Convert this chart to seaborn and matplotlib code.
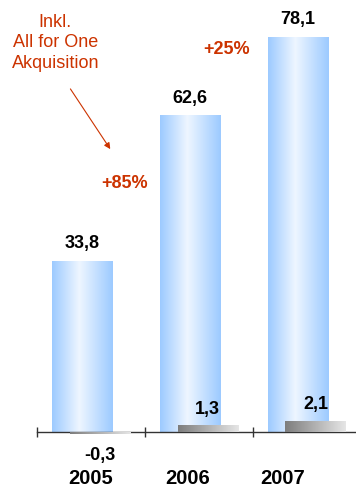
import numpy as np
import matplotlib
matplotlib.use('Agg')
import matplotlib.pyplot as plt
import seaborn as sns
from matplotlib.colors import LinearSegmentedColormap

years = ['2005', '2006', '2007']
umsatz = [33.8, 62.6, 78.1]
ebit = [-0.3, 1.3, 2.1]
umsatz_labels = ['33,8', '62,6', '78,1']
ebit_labels = ['-0,3', '1,3', '2,1']
growth_labels = ['+85%', '+25%']
note = 'Inkl.\nAll for One\nAkquisition'

RED = '#cc3300'

sns.set_theme(style='white')
plt.rcParams['font.family'] = ['Liberation Sans', 'DejaVu Sans']

fig = plt.figure(figsize=(3.56, 4.89), dpi=100)
ax = fig.add_axes([37 / 356, 0, 1 - 37 / 356, 1])

sns.barplot(x=years, y=umsatz, width=0.56, ax=ax, color='#a0ccff')
n1 = len(ax.patches)
sns.barplot(x=years, y=ebit, width=0.56, ax=ax, color='#aaaaaa')
blue_patches = ax.patches[:n1]
gray_patches = ax.patches[n1:]

blue_cmap = LinearSegmentedColormap.from_list(
    'b', [(0, '#9ccaff'), (0.45, '#eef6ff'), (1, '#9ccaff')])
gray_cmap = LinearSegmentedColormap.from_list(
    'g', [(0, '#7d7d7d'), (1, '#e6e6e6')])
grad = np.linspace(0, 1, 256).reshape(1, -1)

def shade(patches, shift, cmap, z):
    for p in patches:
        p.set_x(p.get_x() + shift)
        x0 = p.get_x(); x1 = x0 + p.get_width()
        y0 = min(0, p.get_height()); y1 = max(0, p.get_height())
        im = ax.imshow(grad, extent=[x0, x1, y0, y1], aspect='auto',
                       cmap=cmap, zorder=z, interpolation='bilinear')
        im.set_clip_path(p)
        p.set_facecolor('none')
        p.set_edgecolor('none')

shade(blue_patches, -0.08, blue_cmap, 2)
shade(gray_patches, 0.085, gray_cmap, 3)

ax.set_xlim(-0.5, 2.46)
ax.set_ylim(-11.07, 85.57)
ax.set_aspect('auto')

# value labels
for p, lab in zip(blue_patches, umsatz_labels):
    cx = p.get_x() + p.get_width() / 2
    ax.annotate(lab, (cx, p.get_height()), xytext=(0, 13), textcoords='offset points',
                ha='center', va='center', fontsize=13, fontweight='bold', color='black')
for p, lab in zip(gray_patches, ebit_labels):
    cx = p.get_x() + p.get_width() / 2
    h = p.get_height()
    off = 12.5 if h >= 0 else -15
    ax.annotate(lab, (cx, h), xytext=(0, off), textcoords='offset points',
                ha='center', va='center', fontsize=13, fontweight='bold', color='black')

# year labels
year_shift = [0.0, -0.105, -0.225]
for i, (y, s) in enumerate(zip(years, year_shift)):
    ax.text(i + s, -8.9, y, ha='center', va='center', fontsize=14.5,
            fontweight='bold', color='black')

# growth annotations
ax.text(0.31, 49.4, growth_labels[0], ha='center', va='center', fontsize=13,
        fontweight='bold', color=RED)
ax.text(1.255, 75.7, growth_labels[1], ha='center', va='center', fontsize=13,
        fontweight='bold', color=RED)
ax.text(-0.33, 77.1, note, ha='center', va='center', fontsize=13, color=RED,
        linespacing=1.25)
ax.annotate('', xy=(0.18, 55.9), xytext=(-0.19, 67.8),
            arrowprops=dict(arrowstyle='-|>', color=RED, lw=0.8,
                            mutation_scale=9, shrinkA=0, shrinkB=0))

# axis
sns.despine(ax=ax, left=True, top=True, right=True)
ax.spines['bottom'].set_position(('data', 0))
ax.spines['bottom'].set_color('#333333')
ax.spines['bottom'].set_linewidth(1)
ax.spines['bottom'].set_zorder(2.5)
ax.set_yticks([])
ax.set_ylabel('')
ax.set_xlabel('')
ax.tick_params(axis='x', which='major', length=0, labelbottom=False)
ax.set_xticks([-0.5, 0.5, 1.5, 2.5], minor=True)
ax.tick_params(axis='x', which='minor', direction='inout', length=7, width=1,
               color='#333333', bottom=True)
ax.set_xlim(-0.5, 2.46)
ax.patch.set_alpha(0)

fig.savefig('out.png', dpi=100)
